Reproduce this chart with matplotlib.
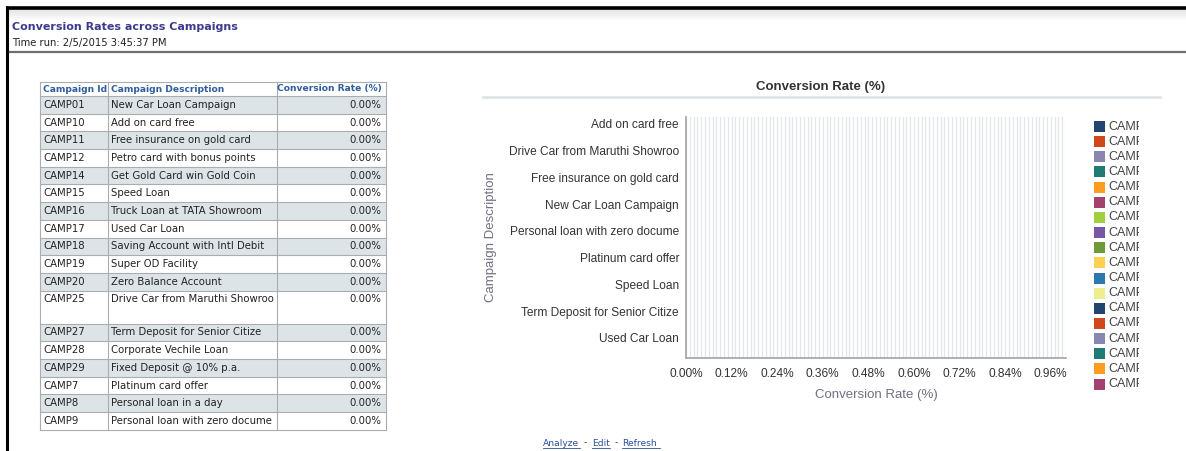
import matplotlib.pyplot as plt
import numpy as np
from matplotlib.patches import Rectangle
from matplotlib.ticker import MultipleLocator, FuncFormatter

campaign_ids = ['CAMP01', 'CAMP10', 'CAMP11', 'CAMP12', 'CAMP14', 'CAMP15',
                'CAMP16', 'CAMP17', 'CAMP18', 'CAMP19', 'CAMP20', 'CAMP25',
                'CAMP27', 'CAMP28', 'CAMP29', 'CAMP7', 'CAMP8', 'CAMP9']
descriptions = ['New Car Loan Campaign', 'Add on card free', 'Free insurance on gold card',
                'Petro card with bonus points', 'Get Gold Card win Gold Coin', 'Speed Loan',
                'Truck Loan at TATA Showroom', 'Used Car Loan', 'Saving Account with Intl Debit',
                'Super OD Facility', 'Zero Balance Account', 'Drive Car from Maruthi Showroo',
                'Term Deposit for Senior Citize', 'Corporate Vechile Loan', 'Fixed Deposit @ 10% p.a.',
                'Platinum card offer', 'Personal loan in a day', 'Personal loan with zero docume']
rates = [0.0] * 18
x_ticks = [0.00, 0.12, 0.24, 0.36, 0.48, 0.60, 0.72, 0.84, 0.96]

palette = ['#21456f', '#d2461b', '#8a86b4', '#1f7b74', '#fd9d1f', '#a3416f',
           '#9fcf3c', '#7657a4', '#6e9a3b', '#fdd14f', '#2d79ad', '#eeee8e',
           '#21456f', '#d2461b', '#8a86b4', '#1f7b74', '#fd9d1f', '#a3416f']

W, H = 1186, 451
fig = plt.figure(figsize=(W / 100, H / 100), dpi=100)
bg = fig.add_axes([0, 0, 1, 1])
bg.set_xlim(0, W)
bg.set_ylim(H, 0)
bg.axis('off')

# page frame and header
bg.imshow(np.linspace(0.89, 1.0, 20).reshape(-1, 1), cmap='gray', vmin=0, vmax=1,
          extent=[8, W, 21, 9], aspect='auto')
bg.plot([6, W], [7.5, 7.5], color='black', lw=2.6, solid_capstyle='butt')
bg.plot([7, 7], [6, H], color='black', lw=2.2, solid_capstyle='butt')
bg.plot([10, W], [51.5, 51.5], color='#6e6e6e', lw=1.6)
bg.text(12, 27, 'Conversion Rates across Campaigns', fontsize=8, fontweight='bold',
        color='#3b3b8e', va='center', family='DejaVu Sans')
bg.text(12, 43, 'Time run: 2/5/2015 3:45:37 PM', fontsize=7.2, color='#222222',
        va='center', family='DejaVu Sans')

# table
col_x = [40, 108, 277, 386]
heights = [33 if c == 'CAMP25' else 17.7 for c in campaign_ids]
tfont = dict(fontsize=7.3, family='DejaVu Sans', va='center')
hfont = dict(fontsize=6.6, family='DejaVu Sans', va='center', color='#2e5e9e', fontweight='bold')
hdr_top, hdr_bot = 82, 96
bg.text(col_x[0] + 3, (hdr_top + hdr_bot) / 2, 'Campaign Id', **hfont)
bg.text(col_x[1] + 3, (hdr_top + hdr_bot) / 2, 'Campaign Description', **hfont)
bg.text(col_x[3] - 4, (hdr_top + hdr_bot) / 2, 'Conversion Rate (%)', ha='right', **hfont)
y = hdr_bot
row_edges = [hdr_top, hdr_bot]
for i, (cid, desc, r, h) in enumerate(zip(campaign_ids, descriptions, rates, heights)):
    if i % 2 == 0:
        bg.add_patch(Rectangle((col_x[0], y), col_x[3] - col_x[0], h,
                               facecolor='#dde4e7', edgecolor='none'))
    yc = y + 8.8
    bg.text(col_x[0] + 3, yc, cid, color='#222222', **tfont)
    bg.text(col_x[1] + 3, yc, desc, color='#222222', **tfont)
    bg.text(col_x[3] - 5, yc, f'{r:.2f}%', color='#222222', ha='right', **tfont)
    y += h
    row_edges.append(y)
for ye in row_edges:
    bg.plot([col_x[0], col_x[3]], [ye, ye], color='#a8adb0', lw=0.8)
for xe in col_x:
    bg.plot([xe, xe], [hdr_top, row_edges[-1]], color='#a8adb0', lw=0.8)

# links
lfont = dict(fontsize=6.6, family='DejaVu Sans', va='center', color='#2a4e9a')
for x0, x1, lab in [(543, 580, 'Analyze'), (592, 610, 'Edit'), (622, 660, 'Refresh')]:
    bg.text(x0, 443, lab, **lfont)
    bg.plot([x0, x1], [448, 448], color='#2a4e9a', lw=0.6)
bg.text(584, 443, '-', fontsize=6.6, family='DejaVu Sans', va='center', color='#333333')
bg.text(615, 443, '-', fontsize=6.6, family='DejaVu Sans', va='center', color='#333333')

# chart title
bg.text(821, 87, 'Conversion Rate (%)', fontsize=9.5, fontweight='bold', color='#333333',
        ha='center', va='center', family='Liberation Sans')
bg.plot([483, 1160], [96.5, 96.5], color='#dde1e5', lw=1.8)

# bar chart, categories sorted by description
order = sorted(range(18), key=lambda k: descriptions[k])
cats = [descriptions[k] for k in order]
vals = [rates[k] for k in order]
cols = [palette[k] for k in order]

ax = fig.add_axes([686 / W, (H - 358) / H, 380 / W, 241 / H])
ax.barh(np.arange(len(cats)), vals, color=cols, height=0.8)
ax.set_xlim(0, 1.0)
ax.set_ylim(len(cats) - 0.5, -0.5)
ax.set_xticks(x_ticks)
ax.xaxis.set_major_formatter(FuncFormatter(lambda v, p: f'{v:.2f}%'))
ax.xaxis.set_minor_locator(MultipleLocator(0.01))
ax.set_yticks(np.arange(0, len(cats), 2))
ax.set_yticklabels(cats[::2])
ax.grid(True, axis='x', which='both', color='#e2e7ec', lw=0.9)
ax.set_axisbelow(True)
ax.tick_params(axis='both', which='both', length=0, labelsize=8.6, labelcolor='#333333')
ax.tick_params(axis='y', pad=5)
ax.tick_params(axis='x', pad=7)
for lab in ax.get_xticklabels() + ax.get_yticklabels():
    lab.set_family('Liberation Sans')
for s in ['top', 'right']:
    ax.spines[s].set_visible(False)
for s in ['left', 'bottom']:
    ax.spines[s].set_color('#a9a9b3')
    ax.spines[s].set_linewidth(1.3)
ax.set_xlabel('Conversion Rate (%)', fontsize=9.5, color='#707080', family='Liberation Sans')
ax.xaxis.set_label_coords(0.5, -0.128)
ax.set_ylabel('Campaign Description', fontsize=9.5, color='#707080', family='Liberation Sans')
ax.yaxis.set_label_coords(-0.497, 0.5)

# legend, clipped like the original
leg = fig.add_axes([1090 / W, 0, 49 / W, 1])
leg.set_xlim(1090, 1139)
leg.set_ylim(H, 0)
leg.axis('off')
for i, (cid, c) in enumerate(zip(campaign_ids, palette)):
    yc = 126.5 + i * 15.15
    leg.add_patch(Rectangle((1094, yc - 5.5), 11, 11, facecolor=c, edgecolor='none'))
    leg.text(1108, yc, cid, fontsize=9, color='#444444', va='center',
             family='Liberation Sans', clip_on=True)

fig.savefig('out.png', dpi=100)
